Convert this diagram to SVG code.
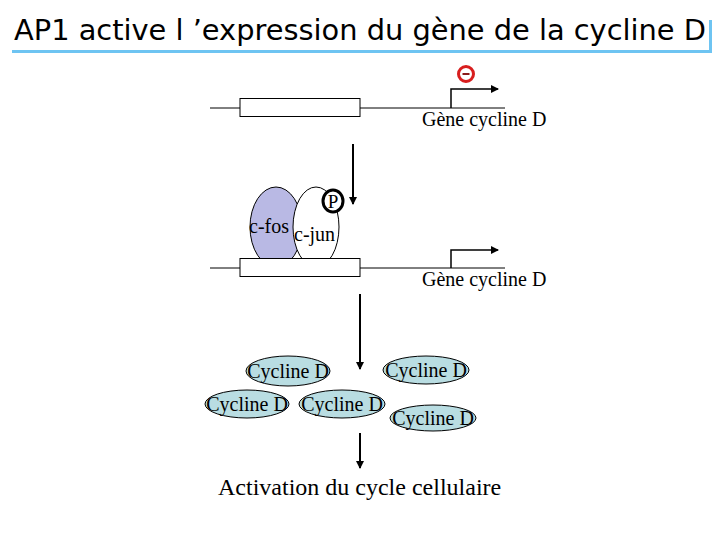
<svg xmlns="http://www.w3.org/2000/svg" width="720" height="540" viewBox="0 0 720 540">
<defs>
<marker id="ah" markerWidth="8" markerHeight="8" refX="7" refY="4" orient="auto" markerUnits="userSpaceOnUse">
<path d="M0,0 L8,4 L0,8 Z" fill="#000"/>
</marker>
<style>
.t{font-family:"Liberation Serif","Times New Roman",serif;fill:#000}
.gl{stroke:#000;stroke-width:1;fill:none}
.box{stroke:#000;stroke-width:1;fill:#fff}
.arr{stroke:#000;stroke-width:2;fill:none;marker-end:url(#ah)}
.prom{stroke:#000;stroke-width:1.5;fill:none;marker-end:url(#ah)}
.cyc{fill:#b9dde2;stroke:#000;stroke-width:1}
</style>
</defs>
<rect width="720" height="540" fill="#fff"/>
<g id="title">
<text x="14" y="40" font-family="DejaVu Sans, sans-serif" font-size="29" textLength="692" lengthAdjust="spacingAndGlyphs" fill="#000">AP1 active l ’expression du gène de la cycline D</text>
<path d="M12,51.5 H710.5 V20" stroke="#6ec4f2" stroke-width="3" fill="none"/>
</g>
<g id="gene1">
<line class="gl" x1="210" y1="108" x2="505" y2="108"/>
<rect class="box" x="240" y="98.5" width="120" height="18"/>
<text class="t" x="422" y="126" font-size="20">Gène cycline D</text>
</g>
<g id="minus">
<circle cx="466" cy="74" r="7.5" fill="#fff" stroke="#d81e1e" stroke-width="3"/>
<line x1="462.5" y1="74" x2="469.5" y2="74" stroke="#8b1a1a" stroke-width="2"/>
</g>
<g id="cfos">
<ellipse cx="276" cy="227" rx="26" ry="40" fill="#b9b9e4" stroke="#000" stroke-width="1"/>
<text class="t" x="249" y="233" font-size="20">c-fos</text>
</g>
<g id="cjun">
<ellipse cx="316" cy="227" rx="23" ry="40" fill="#fff" stroke="#000" stroke-width="1"/>
<text class="t" x="294" y="241" font-size="20">c-jun</text>
</g>
<g id="gene2">
<line class="gl" x1="210" y1="268" x2="505" y2="268"/>
<rect class="box" x="240" y="258.5" width="120" height="18"/>
<text class="t" x="422" y="286" font-size="20">Gène cycline D</text>
</g>
<g id="phospho">
<ellipse cx="333" cy="201" rx="10" ry="11" fill="#fff" stroke="#000" stroke-width="3"/>
<text class="t" x="333" y="208" font-size="19" text-anchor="middle">P</text>
</g>
<g id="cyc1"><ellipse class="cyc" cx="288" cy="371" rx="42" ry="15"/><text class="t" x="288" y="378" font-size="20" text-anchor="middle">Cycline D</text></g>
<g id="cyc2"><ellipse class="cyc" cx="426" cy="370" rx="43" ry="14"/><text class="t" x="426" y="377" font-size="20" text-anchor="middle">Cycline D</text></g>
<g id="cyc3"><ellipse class="cyc" cx="247" cy="404" rx="42" ry="14"/><text class="t" x="247" y="411" font-size="20" text-anchor="middle">Cycline D</text></g>
<g id="cyc4"><ellipse class="cyc" cx="342" cy="404" rx="43" ry="14"/><text class="t" x="342" y="411" font-size="20" text-anchor="middle">Cycline D</text></g>
<g id="cyc5"><ellipse class="cyc" cx="433" cy="418" rx="43" ry="13"/><text class="t" x="433" y="425" font-size="20" text-anchor="middle">Cycline D</text></g>
<g id="result">
<text class="t" x="218" y="495" font-size="24">Activation du cycle cellulaire</text>
</g>
<g id="connectors">
<path class="prom" d="M451,108 V89 H498"/>
<path class="prom" d="M451,268 V250 H498"/>
<line class="arr" x1="353" y1="144" x2="353" y2="204"/>
<line class="arr" x1="360" y1="294" x2="360" y2="369"/>
<line class="arr" x1="360" y1="433" x2="360" y2="468"/>
</g>
</svg>
